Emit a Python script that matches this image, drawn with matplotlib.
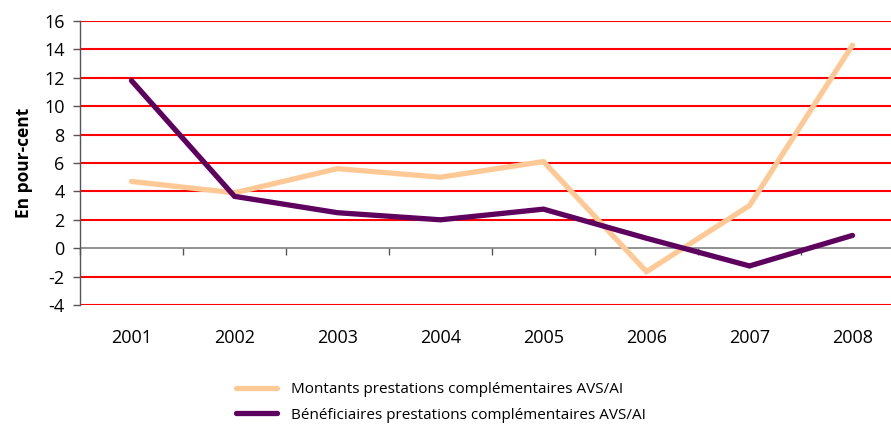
import matplotlib
matplotlib.use("Agg")
import matplotlib.pyplot as plt

plt.rcParams["font.family"] = ["Open Sans", "DejaVu Sans"]

years = ["2001", "2002", "2003", "2004", "2005", "2006", "2007", "2008"]
montants = [4.7, 3.9, 5.6, 5.0, 6.1, -1.65, 3.0, 14.3]
beneficiaires = [11.8, 3.65, 2.5, 2.0, 2.75, 0.7, -1.25, 0.9]
yticks = [-4, -2, 0, 2, 4, 6, 8, 10, 12, 14, 16]

fig = plt.figure(figsize=(8.91, 4.25), dpi=100)
ax = fig.add_axes([80 / 891, 1 - 305 / 425, 824 / 891, 284 / 425])

x = list(range(len(years)))

# grille rouge (sauf 0)
for t in yticks:
    if t != 0:
        ax.axhline(t, color="#FF0000", linewidth=1.5, zorder=1)
ax.axhline(0, color="#7F7F7F", linewidth=1.2, zorder=1)

ax.plot(x, montants, color="#FFC996", linewidth=3.8, solid_capstyle="round",
        solid_joinstyle="miter", zorder=3, label="Montants prestations complémentaires AVS/AI")
ax.plot(x, beneficiaires, color="#5E005E", linewidth=3.8, solid_capstyle="round",
        solid_joinstyle="miter", zorder=4, label="Bénéficiaires prestations complémentaires AVS/AI")

ax.set_xlim(-0.5, len(years) - 0.5)
ax.set_ylim(-4, 16)
ax.set_yticks(yticks)
ax.set_yticklabels([str(t) for t in yticks], fontsize=13)
ax.set_xticks(x)
ax.set_xticklabels(years, fontsize=13)
ax.tick_params(axis="x", length=0, pad=17)
ax.tick_params(axis="y", length=5, width=1, color="#555555", pad=6)

for s in ["top", "right", "bottom"]:
    ax.spines[s].set_visible(False)
ax.spines["left"].set_color("#555555")
ax.spines["left"].set_linewidth(1.0)

# axe des catégories à y=0 avec petites graduations
sec = ax.secondary_xaxis(0.2)
sec.set_xticks([i - 0.5 for i in range(len(years) + 1)])
sec.set_xticklabels([])
sec.tick_params(length=5, width=1, color="#555555")
sec.spines["bottom"].set_visible(False)

ax.set_ylabel("En pour-cent", fontsize=12.5, fontweight="bold", labelpad=8)

handles, labels = ax.get_legend_handles_labels()
fig.legend(handles, labels, loc="upper left", bbox_to_anchor=(230 / 891, 1 - 376 / 425),
           frameon=False, fontsize=11, handlelength=2.7, handletextpad=0.9,
           labelspacing=0.7, borderaxespad=0)

fig.savefig("out.png", dpi=100)
